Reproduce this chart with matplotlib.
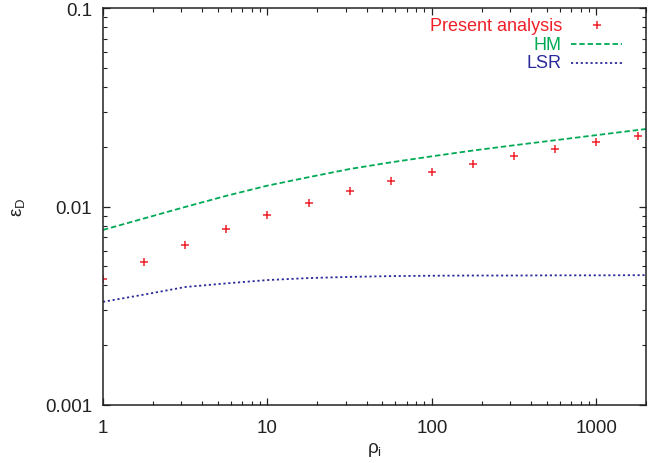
import matplotlib
matplotlib.use("Agg")
import matplotlib.pyplot as plt
from matplotlib.ticker import LogLocator, FuncFormatter, NullFormatter

plt.rcParams['font.family'] = ['Liberation Sans', 'DejaVu Sans']
plt.rcParams['mathtext.fontset'] = 'custom'
plt.rcParams['mathtext.rm'] = 'Liberation Sans'
plt.rcParams['mathtext.it'] = 'Liberation Sans'

# data
rho = [1, 1.778, 3.162, 5.623, 10, 17.78, 31.62, 56.23, 100, 177.8, 316.2, 562.3, 1000, 1778]
present = [0.00431, 0.00527, 0.00640, 0.00768, 0.00903, 0.01045, 0.01193, 0.01344,
           0.01492, 0.01643, 0.01797, 0.01956, 0.02106, 0.02273]

rho_curve = [1, 1.778, 3.162, 5.623, 10, 17.78, 31.62, 56.23, 100, 177.8, 316.2, 562.3, 1000, 2000]
hm = [0.00762, 0.00871, 0.00995, 0.01132, 0.01274, 0.01405, 0.01545, 0.01669,
      0.01790, 0.01915, 0.02035, 0.02158, 0.02289, 0.02457]
lsr = [0.00331, 0.00360, 0.00393, 0.00410, 0.00426, 0.00436, 0.00442, 0.00446,
       0.00448, 0.00449, 0.00449, 0.00450, 0.00450, 0.00451]

labels = ["Present analysis", "HM", "LSR"]
red = '#f0202a'
green = '#00aa55'
blue = '#2a2a9a'

fig = plt.figure(figsize=(6.62, 4.64), dpi=100)
ax = fig.add_axes([103/662, 1-406/464, (646-103)/662, (406-9)/464])

ax.plot(rho, present, linestyle='none', marker='+', color=red, markersize=5.8, markeredgewidth=1.1)
ax.plot(rho_curve, hm, color=green, linewidth=1.3, dashes=(3, 1.6))
ax.plot(rho_curve, lsr, color=blue, linewidth=1.3, dashes=(1.2, 1.5))

ax.set_xscale('log')
ax.set_yscale('log')
ax.set_xlim(1, 2000)
ax.set_ylim(0.001, 0.1)

fmt = FuncFormatter(lambda v, p: '%g' % v)
ax.xaxis.set_major_locator(LogLocator(base=10, numticks=10))
ax.xaxis.set_major_formatter(fmt)
ax.yaxis.set_major_formatter(fmt)
ax.xaxis.set_minor_locator(LogLocator(base=10, subs=range(2, 10), numticks=20))
ax.yaxis.set_minor_locator(LogLocator(base=10, subs=range(2, 10), numticks=20))
ax.xaxis.set_minor_formatter(NullFormatter())
ax.yaxis.set_minor_formatter(NullFormatter())

ax.tick_params(which='both', direction='in', top=True, right=True, colors='#222222',
               labelsize=13.5, labelcolor='#222222')
ax.tick_params(which='major', length=5, width=0.9)
ax.tick_params(which='minor', length=2.8, width=0.8)
ax.tick_params(axis='x', which='major', pad=10)
ax.tick_params(axis='y', which='major', pad=8)
for s in ax.spines.values():
    s.set_linewidth(1.1)
    s.set_color('#222222')

ax.set_xlabel(r'ρ$_{\mathrm{i}}$', fontsize=13.5, color='#222222', labelpad=3)
ax.set_ylabel(r'ε$_{\mathrm{D}}$', fontsize=13.5, color='#222222', labelpad=13)

# legend (gnuplot style, right-aligned labels)
rows_y = [0.957, 0.909, 0.8615]
cols = [red, green, blue]
for lab, yy, c in zip(labels, rows_y, cols):
    ax.text(0.845, yy, lab, transform=ax.transAxes, ha='right', va='center',
            fontsize=13, color=c)
ax.plot([0.909], [rows_y[0]], transform=ax.transAxes, marker='+', color=red,
        markersize=5.8, markeredgewidth=1.1, linestyle='none')
ax.plot([0.862, 0.956], [rows_y[1]] * 2, transform=ax.transAxes, color=green,
        linewidth=1.3, dashes=(3, 1.6))
ax.plot([0.862, 0.956], [rows_y[2]] * 2, transform=ax.transAxes, color=blue,
        linewidth=1.3, dashes=(1.2, 1.5))

fig.savefig('out.png', dpi=100)
